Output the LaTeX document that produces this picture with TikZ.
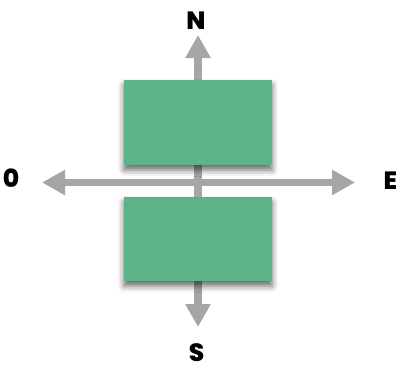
\documentclass[tikz,border=0pt]{standalone}
\usepackage{fontspec}
\setmainfont{Poppins}[BoldFont={Poppins ExtraBold}]
\usetikzlibrary{arrows.meta,shadows.blur}
\definecolor{boxgreen}{RGB}{95,179,136}
\definecolor{arrowgray}{RGB}{166,166,166}
\tikzset{
  arr/.style={draw=arrowgray, line width=8pt, -{Triangle[width=24pt,length=23pt]}},
  greenbox/.style={fill=boxgreen, draw=none, minimum width=148pt, minimum height=85pt, inner sep=0pt,
     blur shadow={shadow xshift=0pt, shadow yshift=-5pt, shadow blur radius=6pt, shadow opacity=60}},
  lbl/.style={font=\fontsize{25}{25}\selectfont\bfseries, inner sep=0pt, anchor=base}
}
\begin{document}
\begin{tikzpicture}[x=1pt,y=-1pt]
\useasboundingbox (0,0) rectangle (396,365);
\coordinate (c) at (198,182.5);
\coordinate (tn) at (198,35);
\coordinate (ts) at (198,327);
\coordinate (tw) at (42,182.5);
\coordinate (te) at (355,182.5);
\draw[arr] (c) -- (tn);
\draw[arr] (c) -- (ts);
\draw[arr, line width=7.5pt] (c) -- (tw);
\draw[arr, line width=7.5pt] (c) -- (te);
\node[greenbox] (top) at (198,122.5) {};
\node[greenbox, minimum height=84pt] (bot) at (198,239) {};
\node[lbl] (n) at (196,29) {N};
\node[lbl] (s) at (196.5,361) {S};
\node[lbl] (w) at (11,187) {0};
\node[lbl] (e) at (390.5,189) {E};
\end{tikzpicture}
\end{document}
